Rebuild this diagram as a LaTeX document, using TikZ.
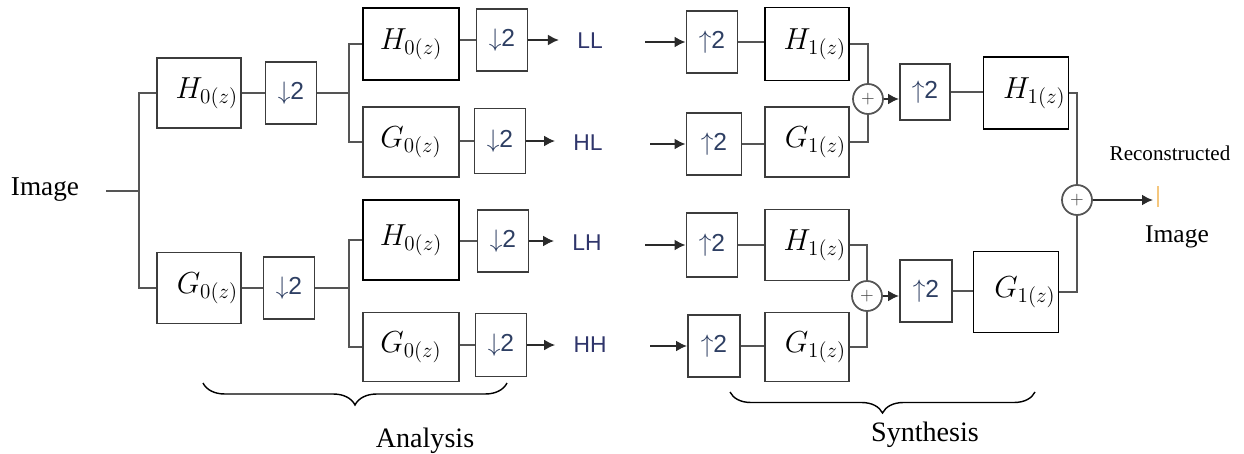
\documentclass[tikz,border=0pt]{standalone}
\usepackage{fontspec}
\setmainfont{Liberation Serif}
\setsansfont{Liberation Sans}
\usetikzlibrary{arrows.meta,decorations.pathreplacing}
\definecolor{WireGray}{HTML}{555555}
\definecolor{BoxGray}{HTML}{3C3C3C}
\definecolor{ArrowGray}{HTML}{2A2A2A}
\definecolor{LabelNavy}{HTML}{2F356B}
\definecolor{SampNavy}{HTML}{2E3F63}
\definecolor{TickOrange}{HTML}{F5C77E}
\newcommand{\dnsamp}{$\downarrow$2}
\newcommand{\upsamp}{$\uparrow$2}

\begin{document}
\begin{tikzpicture}[x=0.02cm, y=-0.02cm,
    filt/.style={draw=BoxGray, line width=0.6pt, minimum width=1.68cm, minimum height=1.4cm, font=\fontsize{17}{20}\selectfont},
    filtk/.style={filt, draw=black, line width=1.1pt},
    rt/.style={text width=#1, align=right, inner xsep=0.06cm},
    rt/.default=1.56cm,
    samp/.style={draw=BoxGray, line width=1.1pt, minimum width=1.02cm, minimum height=1.24cm, inner sep=0pt, font=\fontsize{14}{16}\selectfont\sffamily, text=SampNavy},
    band/.style={font=\fontsize{13}{15}\selectfont\sffamily, text=LabelNavy, inner sep=0pt},
    sum/.style={circle, draw=WireGray, line width=1pt, minimum size=0.6cm, inner sep=0pt, font=\normalsize, text=BoxGray},
    wire/.style={draw=WireGray, line width=1.1pt},
    arr/.style={draw=ArrowGray, line width=1.1pt, -{Latex[length=2.2mm,width=2.2mm]}},
    brc/.style={decorate, decoration={brace, mirror, amplitude=#1}, line width=0.8pt},
    captxt/.style={font=\fontsize{16}{19}\selectfont}
  ]
    \useasboundingbox (0,0) rectangle (1244,453);

    % analysis, first level
    \node[font=\fontsize{15.5}{18}\selectfont] (img) at (45,190) {Image};
    \coordinate (src) at (106,191);
    \coordinate (sp1) at (139,191);
    \node[filt, rt] (h0a) at (199,93) {$H_{0(z)}$};
    \node[filt, rt, minimum height=1.42cm] (g0a) at (199,288) {$G_{0(z)}$};
    \node[samp] (d1) at (291,93) {\dnsamp};
    \node[samp] (d2) at (289,288) {\dnsamp};
    \coordinate (sp2) at (349,93);
    \coordinate (sp3) at (349,288);

    % analysis, second level
    \node[filtk, minimum width=1.92cm, minimum height=1.44cm] (h0b) at (411,44) {$H_{0(z)}$};
    \node[filt, minimum width=1.92cm, minimum height=1.4cm] (g0b) at (411,142) {$G_{0(z)}$};
    \node[filtk, minimum width=1.92cm, minimum height=1.6cm] (h0c) at (411,240) {$H_{0(z)}$};
    \node[filt, minimum width=1.92cm, minimum height=1.38cm] (g0c) at (411,347) {$G_{0(z)}$};
    \node[samp] (d3) at (502,40) {\dnsamp};
    \node[samp, minimum height=1.3cm] (d4) at (500,141) {\dnsamp};
    \node[samp, minimum height=1.24cm] (d5) at (503,241) {\dnsamp};
    \node[samp, minimum height=1.26cm] (d6) at (501,345) {\dnsamp};
    \node[band] (ll) at (590,41) {LL};
    \node[band] (hl) at (588,143) {HL};
    \node[band] (lh) at (587,243) {LH};
    \node[band] (hh) at (590,345) {HH};

    % synthesis
    \coordinate (in1) at (645,42);
    \coordinate (in2) at (650,144);
    \coordinate (in3) at (645,245);
    \coordinate (in4) at (650,346);
    \node[samp] (u1) at (712,42) {\upsamp};
    \node[samp, minimum width=1.1cm] (u2) at (714,144) {\upsamp};
    \node[samp, minimum height=1.28cm] (u3) at (712,245) {\upsamp};
    \node[samp, minimum width=1.04cm] (u4) at (714,346) {\upsamp};
    \node[filtk, rt, minimum height=1.46cm] (h1a) at (807,44) {$H_{1(z)}$};
    \node[filt, rt] (g1a) at (807,142) {$G_{1(z)}$};
    \node[filt, rt, minimum height=1.42cm] (h1b) at (807,245) {$H_{1(z)}$};
    \node[filt, rt, minimum height=1.38cm] (g1b) at (807,347) {$G_{1(z)}$};
    \node[sum] (add1) at (868,99) {$+$};
    \node[sum] (add2) at (867,296) {$+$};
    \node[samp, minimum width=1.0cm, minimum height=1.12cm] (u5) at (925,92) {\upsamp};
    \node[samp, minimum width=1.04cm] (u6) at (926,291) {\upsamp};
    \node[filtk, rt=1.58cm, minimum height=1.44cm] (h1f) at (1026,93) {$H_{1(z)}$};
    \node[filtk, rt=1.58cm, minimum height=1.62cm] (g1f) at (1016,292) {$G_{1(z)}$};
    \node[sum] (add3) at (1077,200) {$+$};
    \coordinate (outp) at (1153,200);
    \node[font=\fontsize{12}{14}\selectfont] (rec) at (1170,153) {Reconstructed};
    \node[font=\fontsize{14.5}{17}\selectfont] (img2) at (1177,237) {Image};
    \draw[TickOrange, line width=0.8pt] (1158,186) -- (1158,207);

    % wires
    \draw[wire] (src) -- (sp1) (h0a.west) -| (sp1) |- (g0a.west);
    \draw[wire] (h0a) -- (d1) (d1) -- (sp2);
    \draw[wire] (g0a) -- (d2) (d2) -- (sp3);
    \draw[wire] (h0b.west) -| (sp2) |- (g0b.west);
    \draw[wire] (h0c.west) -| (sp3) |- (g0c.west);
    \draw[wire] (d3.west -| h0b.east) -- (d3.west);
    \draw[wire] (d4.west -| g0b.east) -- (d4.west);
    \draw[wire] (d5.west -| h0c.east) -- (d5.west);
    \draw[wire] (d6.west -| g0c.east) -- (d6.west);
    \draw[arr, shorten >=0.36cm] (d3.east) -- (d3.east -| ll.west);
    \draw[arr, shorten >=0.36cm] (d4.east) -- (d4.east -| hl.west);
    \draw[arr, shorten >=0.36cm] (d5.east) -- (d5.east -| lh.west);
    \draw[arr, shorten >=0.36cm] (d6.east) -- (d6.east -| hh.west);

    \draw[arr] (in1) -- (u1);
    \draw[arr] (in2) -- (u2);
    \draw[arr] (in3) -- (u3);
    \draw[arr] (in4) -- (u4);
    \draw[wire] (u1.east) -- (u1.east -| h1a.west);
    \draw[wire] (u2.east) -- (u2.east -| g1a.west);
    \draw[wire] (u3.east) -- (u3.east -| h1b.west);
    \draw[wire] (u4.east) -- (u4.east -| g1b.west);
    \draw[wire] (h1a.east) -| (add1.north) (g1a.east) -| (add1.south);
    \draw[wire] (h1b.east) -| (add2.north) (g1b.east) -| (add2.south);
    \draw[arr] (add1.east) -- (add1.east -| u5.west);
    \draw[arr] (add2.east) -- (add2.east -| u6.west);
    \draw[wire] (u5.east) -- (u5.east -| h1f.west);
    \draw[wire] (u6.east) -- (u6.east -| g1f.west);
    \draw[wire] (h1f.east) -| (add3.north) (g1f.east) -| (add3.south);
    \draw[arr] (add3) -- (outp);

    % braces
    \draw[brc=0.44cm] (203,383) -- (507,383);
    \draw[brc=0.42cm] (730,392) -- (1035,392);
    \node[captxt] (ana) at (425,441) {Analysis};
    \node[captxt] (syn) at (925,435) {Synthesis};
\end{tikzpicture}
\end{document}
